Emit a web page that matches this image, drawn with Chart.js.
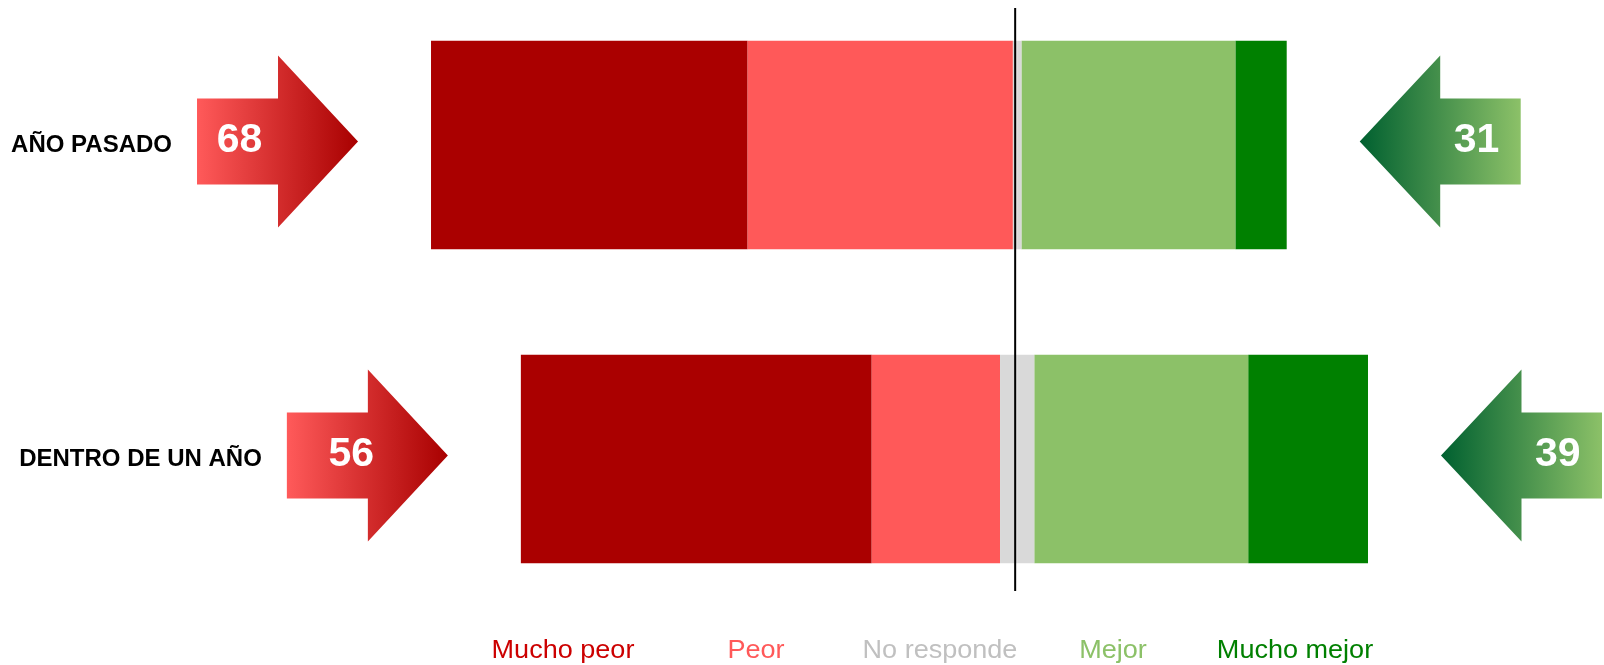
<!DOCTYPE html>
<html>
<head>
<meta charset="utf-8">
<script src="https://cdn.jsdelivr.net/npm/chart.js@4.4.1/dist/chart.umd.min.js"></script>
<style>
  html, body { margin: 0; padding: 0; background: #fff; }
  #wrap { position: relative; width: 1604px; height: 665px; }
  .leg {
    position: absolute;
    top: 636px;
    font: 26px "Liberation Sans", Arial, sans-serif;
    line-height: 27px;
    white-space: nowrap;
    transform: translateX(-50%) scaleX(1.04);
  }
</style>
</head>
<body>
<div id="wrap">
  <canvas id="chart"></canvas>
  <div id="legend"></div>
</div>
<script>
// Data (% of answers)
const categories = ["AÑO PASADO", "DENTRO DE UN AÑO"];
const muchoPeor = [37, 41];
const peor = [31, 15];
const noResponde = [1, 4];
const mejor = [25, 25];
const muchoMejor = [6, 14];
// totals printed in the arrows
const totalPeor = [68, 56];
const totalMejor = [31, 39];

const legendNames = ["Mucho peor", "Peor", "No responde", "Mejor", "Mucho mejor"];
const legendColors = ["#cc0000", "#ff5959", "#c0c0c0", "#8cc168", "#008000"];
const legendCenters = [563, 756, 940, 1113, 1295];

// No responde is split half on each side of zero
const nrHalf = noResponde.map((v) => v / 2);

const barStyle = {
  borderWidth: 0,
  clip: false,
  barPercentage: 0.664,
  categoryPercentage: 1,
};

// the number in the second red arrow sits a bit right of centre in the original
const redNumShift = [0, 22];

// arrows, numbers, category labels and the zero line
const arrowPlugin = {
  id: "arrows",
  afterDatasetsDraw(chart) {
    const ctx = chart.ctx;
    const xs = chart.scales.x;
    const ys = chart.scales.y;
    const zero = xs.getPixelForValue(0);

    ctx.save();
    ctx.strokeStyle = "#000";
    ctx.lineWidth = 2;
    ctx.beginPath();
    ctx.moveTo(zero - 2, ys.getPixelForValue(0) - 137);
    ctx.lineTo(zero - 2, ys.getPixelForValue(1) + 132);
    ctx.stroke();

    categories.forEach((cat, i) => {
      const cy = ys.getPixelForValue(i);
      const left = xs.getPixelForValue(-(muchoPeor[i] + peor[i] + nrHalf[i]));
      const right = xs.getPixelForValue(mejor[i] + muchoMejor[i] + nrHalf[i]);
      const ay = cy - 3.5;

      // red arrow pointing right
      const tipL = left - 73, startL = tipL - 161, neckL = startL + 81;
      let g = ctx.createLinearGradient(startL, 0, tipL, 0);
      g.addColorStop(0, "#ff5a5a");
      g.addColorStop(1, "#a80000");
      ctx.fillStyle = g;
      ctx.beginPath();
      ctx.moveTo(startL, ay - 43);
      ctx.lineTo(neckL, ay - 43);
      ctx.lineTo(neckL, ay - 86);
      ctx.lineTo(tipL, ay);
      ctx.lineTo(neckL, ay + 86);
      ctx.lineTo(neckL, ay + 43);
      ctx.lineTo(startL, ay + 43);
      ctx.closePath();
      ctx.fill();

      // green arrow pointing left
      const tipR = right + 73, neckR = tipR + 80.5, endR = tipR + 161;
      g = ctx.createLinearGradient(tipR, 0, endR, 0);
      g.addColorStop(0, "#006030");
      g.addColorStop(1, "#8cc168");
      ctx.fillStyle = g;
      ctx.beginPath();
      ctx.moveTo(endR, ay - 43);
      ctx.lineTo(neckR, ay - 43);
      ctx.lineTo(neckR, ay - 86);
      ctx.lineTo(tipR, ay);
      ctx.lineTo(neckR, ay + 86);
      ctx.lineTo(neckR, ay + 43);
      ctx.lineTo(endR, ay + 43);
      ctx.closePath();
      ctx.fill();

      // numbers
      ctx.fillStyle = "#fff";
      ctx.font = 'bold 41px "Liberation Sans", Arial, sans-serif';
      ctx.textAlign = "center";
      ctx.textBaseline = "alphabetic";
      ctx.fillText(String(totalPeor[i]), (startL + neckL) / 2 + 2 + redNumShift[i], ay + 10.5);
      ctx.fillText(String(totalMejor[i]), (neckR + endR) / 2 - 4, ay + 10.5);

      // category label
      ctx.fillStyle = "#000";
      ctx.font = 'bold 24px "Liberation Sans", Arial, sans-serif';
      ctx.textAlign = "right";
      ctx.fillText(cat, startL - 25, cy + 6.6);
    });
    ctx.restore();
  },
};

const ctx = document.getElementById("chart");

new Chart(ctx, {
  type: "bar",
  data: {
    labels: categories,
    datasets: [
      { label: "No responde", data: nrHalf.map((v) => -v), backgroundColor: "#d9d9d9", ...barStyle },
      { label: "Peor", data: peor.map((v) => -v), backgroundColor: "#ff5959", ...barStyle },
      { label: "Mucho peor", data: muchoPeor.map((v) => -v), backgroundColor: "#aa0000", ...barStyle },
      { label: "No responde", data: nrHalf, backgroundColor: "#d9d9d9", ...barStyle },
      { label: "Mejor", data: mejor, backgroundColor: "#8cc168", ...barStyle },
      { label: "Mucho mejor", data: muchoMejor, backgroundColor: "#008000", ...barStyle },
    ],
  },
  options: {
    indexAxis: "y",
    responsive: true,
    maintainAspectRatio: false,
    animation: false,
    layout: { padding: { top: 145, bottom: 206, left: 0, right: 0 } },
    scales: {
      x: { type: "linear", stacked: true, display: false, min: -118.87, max: 68.58 },
      y: { stacked: true, display: false, offset: false },
    },
    plugins: {
      legend: { display: false },
      tooltip: { enabled: false },
    },
  },
  plugins: [arrowPlugin],
});

// legend as coloured text
const legendDiv = document.getElementById("legend");
legendNames.forEach((name, i) => {
  const span = document.createElement("span");
  span.className = "leg";
  span.textContent = name;
  span.style.color = legendColors[i];
  span.style.left = legendCenters[i] + "px";
  legendDiv.appendChild(span);
});
</script>
</body>
</html>
